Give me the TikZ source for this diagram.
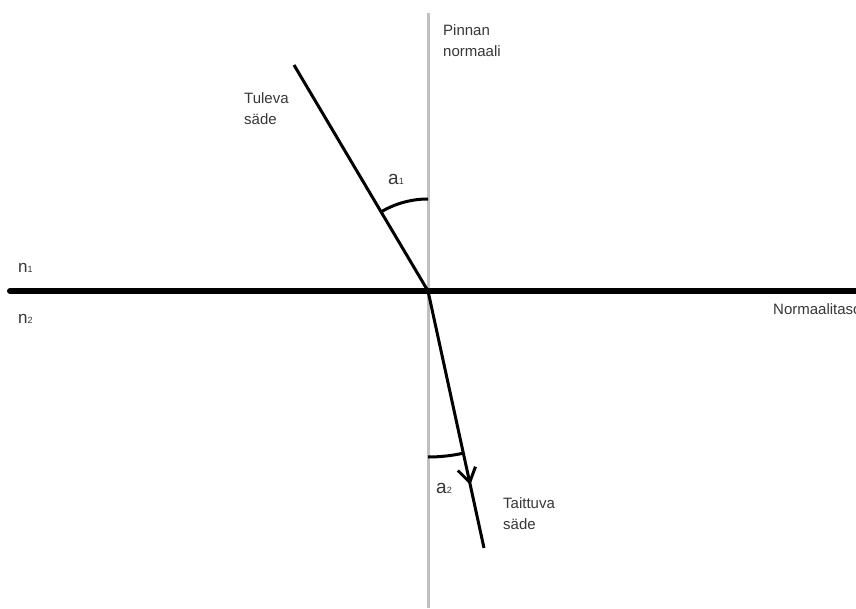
\documentclass[tikz,border=0pt]{standalone}
\usepackage{fontspec}
\setmainfont{Liberation Sans}
\usetikzlibrary{arrows.meta,decorations.markings}
\definecolor{normgrey}{RGB}{192,192,192}
\definecolor{txt}{RGB}{55,55,55}
\newcommand{\subidx}[1]{{\fontsize{9}{9}\selectfont #1}}
\begin{document}
\begin{tikzpicture}[x=1pt,y=1pt,
  lbl/.style={inner sep=0pt,anchor=base west,text=txt,align=left,font=\fontsize{15}{21}\selectfont},
  sym/.style={inner sep=0pt,anchor=base west,text=txt,font=\fontsize{19}{20}\selectfont},
  ray/.style={line width=3pt,black},
  anglearc/.style={line width=3pt,black}]
\useasboundingbox[fill=white] (0,0) rectangle (856,608);
% coordinates (y = 608 - pixel y)
\coordinate (O) at (428,317);
\coordinate (Ntop) at (428,595);
\coordinate (Nbot) at (428,0);
\coordinate (Lend) at (10,317);
\coordinate (Rend) at (860,317);
\coordinate (A) at (294,543);
\coordinate (B) at (484,60);
% surface normal
\draw[normgrey,line width=3pt] (Ntop) -- (Nbot);
% interface
\draw[line width=6pt,line cap=round] (Lend) -- (Rend);
% incident ray
\draw[ray] (A) -- (O);
% refracted ray with arrow
\draw[ray,decoration={markings,mark=at position 0.755 with {\arrow{Straight Barb[length=14pt,width=18pt,line width=3pt]}}},postaction={decorate}] (O) -- (B);
% angle arcs
\draw[anglearc] ([shift={(90:92)}]O) arc[start angle=90,end angle=120.7,radius=92];
\draw[anglearc] ([shift={(270:166)}]O) arc[start angle=270,end angle=282.3,radius=166];
% labels (base = last line)
\node[lbl] (tul) at (244,483) {Tuleva\\säde};
\node[lbl] (pin) at (443,551) {Pinnan\\normaali};
\node[lbl] (tai) at (503,79) {Taittuva\\säde};
\node[lbl] (nor) at (773,293) {Normaalitaso};
\node[sym] (a1) at (388,423) {a\subidx{1}};
\node[sym] (a2) at (436,115) {a\subidx{2}};
\node[sym,font=\fontsize{17}{20}\selectfont] (n1) at (18,335) {n\subidx{1}};
\node[sym,font=\fontsize{17}{20}\selectfont] (n2) at (18,284) {n\subidx{2}};
\end{tikzpicture}
\end{document}
